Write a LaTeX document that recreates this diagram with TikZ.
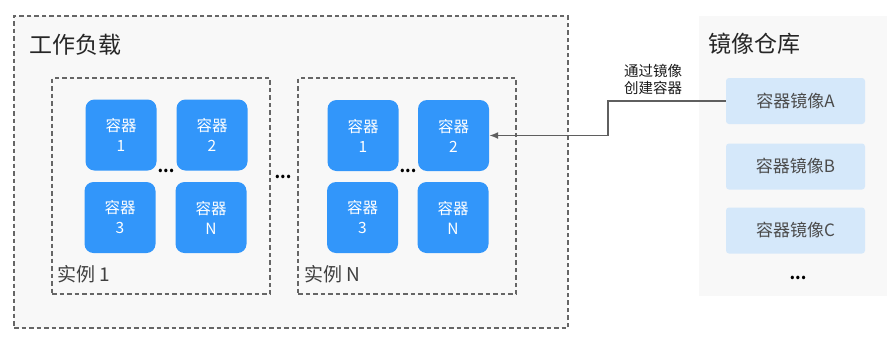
\documentclass[tikz,border=0pt]{standalone}
\usepackage{fontspec}
\setmainfont{Noto Sans CJK SC}
\usetikzlibrary{arrows.meta,positioning}
\definecolor{bggray}{RGB}{248,248,248}
\definecolor{cblue}{RGB}{50,150,250}
\definecolor{imgblue}{RGB}{213,232,250}
\definecolor{linegray}{RGB}{95,95,95}

\begin{document}
\begin{tikzpicture}[
    x=1pt,y=-1pt,>=Latex,
    dashbox/.style={draw=black!60,dash pattern=on 4.5pt off 3pt,line width=1.3pt,fill=bggray,inner sep=0pt},
    container/.style={fill=cblue,rounded corners=9pt,minimum width=71pt,minimum height=71pt,
      text=white,font=\fontsize{15.5}{20}\selectfont,align=center,inner sep=0pt},
    image/.style={fill=imgblue,rounded corners=3pt,minimum width=139pt,minimum height=46pt,
      text=black!70,font=\fontsize{17}{20}\selectfont,inner sep=0pt},
    title/.style={font=\fontsize{23}{26}\selectfont,anchor=west,inner sep=0pt,text=black!85},
    dots/.style={font=\bfseries\fontsize{16}{16}\selectfont,inner sep=0pt}
  ]
  \useasboundingbox (0,0) rectangle (887,354);
  % workload and repository
  \node[dashbox,minimum width=554pt,minimum height=312pt] (work) at (291,172) {};
  \node[fill=bggray,minimum width=188pt,minimum height=280pt,inner sep=0pt] (repo) at (793,156) {};
  \node[title] (worklabel) at (29,45) {工作负载};
  \node[title] (repolabel) at (708,44) {镜像仓库};
  % instances
  \node[dashbox,minimum width=218pt,minimum height=216pt] (inst1) at (161,186) {};
  \node[dashbox,minimum width=218pt,minimum height=216pt] (instN) at (407,186) {};
  \node[anchor=west,inner sep=0pt,font=\fontsize{19}{22}\selectfont,text=black!75] (inst1label) at (57,274) {实例 1};
  \node[anchor=west,inner sep=0pt,font=\fontsize{19}{22}\selectfont,text=black!75] (instNlabel) at (304,274) {实例 N};
  % containers
  \node[container] (c11) at (121,135) {容器\\1};
  \node[container] (c12) at (212,135) {容器\\2};
  \node[container] (c13) at (120,217.5) {容器\\3};
  \node[container] (c1N) at (211,217.5) {容器\\N};
  \node[container] (cN1) at (363,135.5) {容器\\1};
  \node[container] (cN2) at (453.5,135.5) {容器\\2};
  \node[container] (cN3) at (362.5,217.5) {容器\\3};
  \node[container] (cNN) at (453,217.5) {容器\\N};
  \node[dots] (dots1) at (166,171) {...};
  \node[dots] (dotsN) at (408,171) {...};
  \node[dots] (dotsmid) at (283,177) {...};
  % images
  \node[image] (imgA) at (795.5,101) {容器镜像A};
  \node[image] (imgB) at (795.5,166.5) {容器镜像B};
  \node[image] (imgC) at (795.5,230.5) {容器镜像C};
  \node[dots] (dotsimg) at (798,278) {...};
  % pull image
  \coordinate (bend) at (608,101);
  \draw[draw=linegray,line width=1.5pt,-{Latex[length=9pt,width=7pt]}] (imgA.west) -- (bend) |- (cN2.east);
  \node[font=\fontsize{14.5}{17}\selectfont,align=center,inner sep=0pt,text=black!90] (pulllabel) at (653,79) {通过镜像\\创建容器};
\end{tikzpicture}
\end{document}
